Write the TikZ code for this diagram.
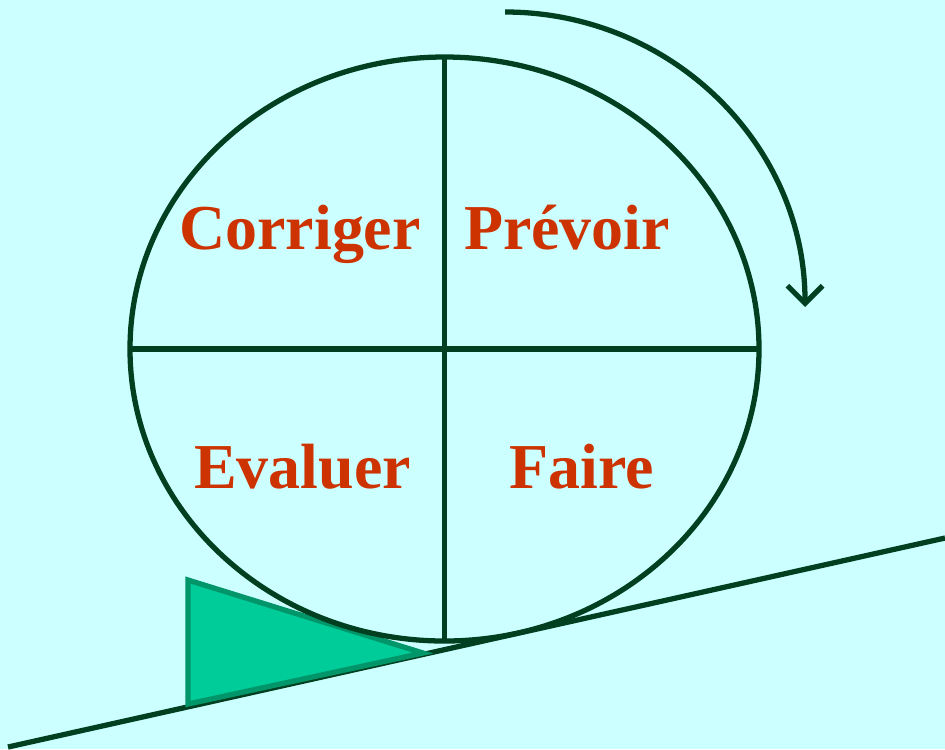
\documentclass[tikz,border=0pt]{standalone}
\usepackage{fontspec}
\setmainfont{Liberation Serif}
\usetikzlibrary{arrows.meta}

\definecolor{fond}{HTML}{CCFFFF}
\definecolor{trait}{HTML}{004020}
\definecolor{texte}{HTML}{CC3300}
\definecolor{cale}{HTML}{00CC99}
\definecolor{calebord}{HTML}{00966A}

\tikzset{
    etape/.style={anchor=base, text=texte, font=\fontsize{18.2}{20}\selectfont\bfseries, inner sep=0pt},
    roue/.style={draw=trait, line width=1.5pt}
}

\begin{document}
\begin{tikzpicture}
    % Fond cyan clair
    \fill[fond] (0, 0) rectangle (9.45, 7.49);
    \useasboundingbox (0, 0) rectangle (9.45, 7.49);

    % 1. La pente
    \draw[roue] (0.08, 0.02) -- (9.45, 2.11);

    % 2. La cale sous la roue
    \filldraw[fill=cale, draw=calebord, line width=1.5pt, line join=miter]
        (1.88, 1.69) -- (4.23, 0.96) -- (1.88, 0.45) -- cycle;

    % 3. La roue et ses quatre quartiers
    \draw[roue] (4.445, 4.00) ellipse [x radius=3.145, y radius=2.92];
    \draw[roue] (4.445, 6.92) -- (4.445, 1.08);
    \draw[roue] (1.30, 4.00) -- (7.59, 4.00);

    % 4. Sens de rotation
    \draw[roue, -{Straight Barb[length=5pt, width=10pt]}]
        (5.05, 7.37) arc [start angle=90, end angle=0, x radius=3.0, y radius=2.95];

    % 5. Les quatre etapes
    \node[etape] (corriger) at (3.00, 5.00) {Corriger};
    \node[etape] (prevoir)  at (5.67, 5.00) {Prévoir};
    \node[etape] (evaluer)  at (3.025, 2.61) {Evaluer};
    \node[etape] (faire)    at (5.815, 2.61) {Faire};

\end{tikzpicture}
\end{document}
